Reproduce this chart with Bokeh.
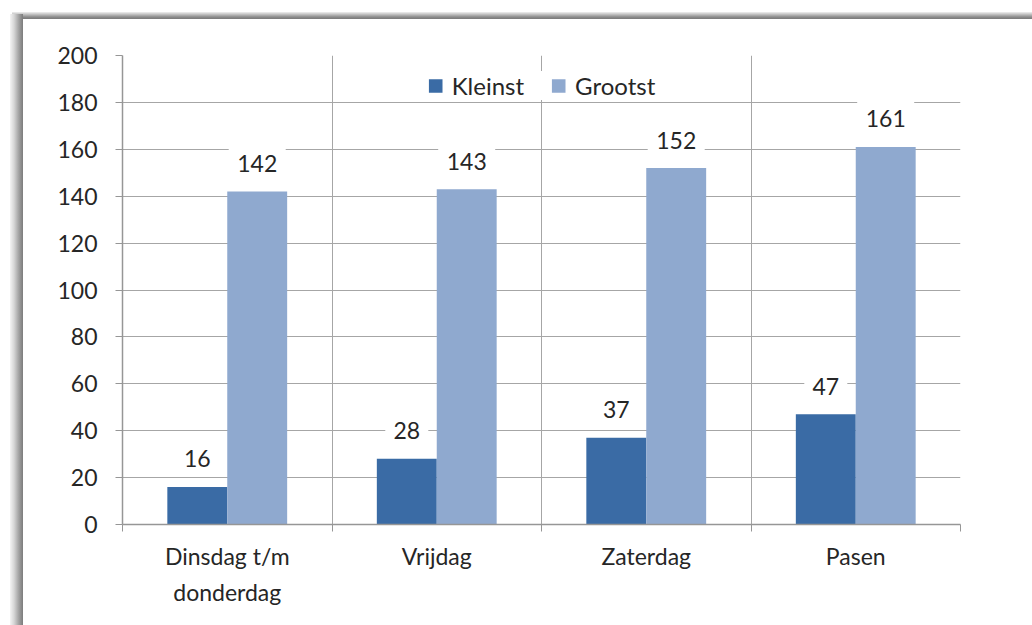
import numpy as np
from bokeh.plotting import figure
from bokeh.models import Range1d, FixedTicker, Legend, LegendItem
from bokeh.core.properties import value
from bokeh.embed import file_html
from bokeh.resources import INLINE

categories = ["Dinsdag t/m\ndonderdag", "Vrijdag", "Zaterdag", "Pasen"]
kleinst = [16, 28, 37, 47]
grootst = [142, 143, 152, 161]
series_names = ["Kleinst", "Grootst"]
y_ticks = [0, 20, 40, 60, 80, 100, 120, 140, 160, 180, 200]

FONT = "Lato"
FS = "23px"
TXT = "#262626"
GRID = "#a6a6a6"
AXIS = "#969696"
C1 = "#3a6ba5"
C2 = "#8fa9cf"

W, H = 1032, 625
ML, MT = 122, 55
MR, MB = W - 960, H - 524

shadow_css = {
    "background-color": "white",
    "background-image": (
        "linear-gradient(to right, #f4f4f4 0px, #d6d6d6 4px, #a0a0a0 9px, #7c7c7c 13px),"
        "linear-gradient(to bottom, #f0f0f0 0px, #c8c8c8 2px, #8c8c8c 5px, #7a7a7a 7px)"
    ),
    "background-position": "10px 14px, 12px 12px",
    "background-size": "13px 100%, 100% 7px",
    "background-repeat": "no-repeat",
}

p = figure(width=W, height=H, output_backend="svg", toolbar_location=None,
           x_range=Range1d(0, 4), y_range=Range1d(0, 200),
           min_border_left=ML, min_border_right=MR, min_border_top=MT, min_border_bottom=MB,
           styles=shadow_css)
p.background_fill_color = "white"
p.border_fill_color = "white"
p.border_fill_alpha = 0
p.outline_line_color = None

xc = np.arange(len(categories)) + 0.5
bw = 0.286
r1 = p.vbar(x=xc - bw / 2, top=kleinst, width=bw, fill_color=C1, line_color=None)
r2 = p.vbar(x=xc + bw / 2, top=grootst, width=bw, fill_color=C2, line_color=None)

# data labels with white boxes
px_per_unit = (H - MT - MB) / 200.0
off = 28
for xs, vals in ((xc - bw / 2, kleinst), (xc + bw / 2, grootst)):
    ly = [v + off / px_per_unit for v in vals]
    wids = [15 + 14 * len(str(v)) for v in vals]
    p.rect(x=xs, y=ly, width=wids, height=36, width_units="screen", height_units="screen",
           fill_color="white", line_color=None)
    p.text(x=xs, y=vals, text=[str(v) for v in vals], y_offset=-off,
           text_align="center", text_baseline="middle",
           text_font=value(FONT), text_font_size=FS, text_color=TXT)

# axes
p.yaxis.ticker = FixedTicker(ticks=y_ticks)
p.yaxis.axis_line_color = AXIS
p.yaxis.axis_line_width = 1.5
p.yaxis.major_tick_line_color = AXIS
p.yaxis.major_tick_out = 7
p.yaxis.major_tick_in = 0
p.yaxis.minor_tick_line_color = None
p.yaxis.major_label_standoff = 18
p.yaxis.major_label_text_font = FONT
p.yaxis.major_label_text_font_size = FS
p.yaxis.major_label_text_color = TXT

p.xaxis.ticker = FixedTicker(ticks=list(xc), minor_ticks=list(range(len(categories) + 1)))
p.xaxis.major_label_overrides = {float(x): c for x, c in zip(xc, categories)}
p.xaxis.axis_line_color = AXIS
p.xaxis.axis_line_width = 1.5
p.xaxis.major_tick_line_color = None
p.xaxis.major_tick_out = 7
p.xaxis.major_tick_in = 0
p.xaxis.minor_tick_line_color = AXIS
p.xaxis.minor_tick_out = 7
p.xaxis.minor_tick_in = 0
p.xaxis.major_label_standoff = 10
p.xaxis.major_label_text_font = FONT
p.xaxis.major_label_text_font_size = FS
p.xaxis.major_label_text_color = TXT
p.xaxis.major_label_text_line_height = 1.3

p.ygrid.ticker = FixedTicker(ticks=y_ticks[1:])
p.ygrid.grid_line_color = GRID
p.xgrid.ticker = FixedTicker(ticks=list(range(1, len(categories) + 1)))
p.xgrid.grid_line_color = GRID

legend = Legend(items=[LegendItem(label=series_names[0], renderers=[r1]),
                       LegendItem(label=series_names[1], renderers=[r2])],
                location="top_center", orientation="horizontal",
                glyph_width=17, glyph_height=17, label_standoff=8, spacing=26,
                padding=18, margin=16,
                label_text_font=FONT, label_text_font_size="24px", label_text_color=TXT,
                background_fill_color="white", background_fill_alpha=1,
                border_line_color=None)
p.add_layout(legend, "center")

open("out.html", "w").write(file_html(p, INLINE))
